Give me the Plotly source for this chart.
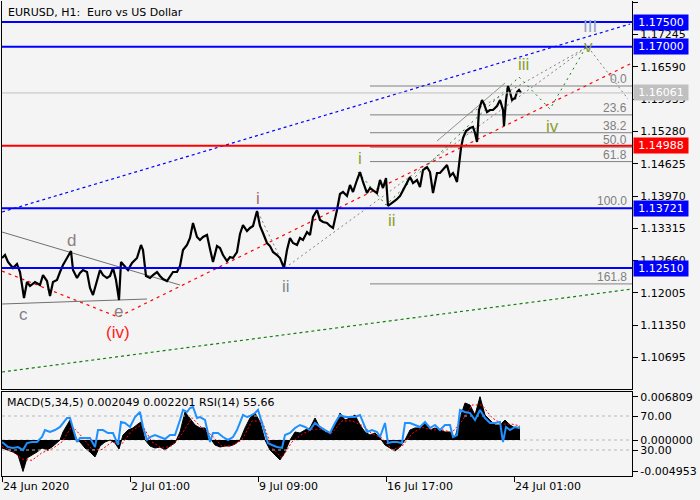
import plotly.graph_objects as go

# ---------------- data ----------------
# price path: hourly bar index (0 = 24 Jun 17:00) and price
bar_idx = [0, 3, 6, 11, 15, 18, 22, 25, 28, 33, 38, 41, 45, 48, 51, 55, 58, 61, 65, 69,
           71, 75, 78, 81, 85, 88, 91, 95, 98, 101, 105, 108, 111, 114, 117, 119, 123, 126, 130, 135,
           139, 141, 144, 148, 151, 155, 158, 161, 165, 168, 171, 175, 178, 181, 185, 188, 191, 195, 198, 201,
           205, 208, 211, 215, 218, 221, 225, 228, 231, 235, 238, 241, 245, 248, 251, 255, 258, 261, 265, 268,
           271, 275, 278, 282, 285, 288, 291, 295, 298, 301, 305, 308, 311, 315, 318, 321, 325, 328, 331, 335,
           338, 341, 345, 348, 351, 355, 358, 361, 365, 368, 371, 375, 378, 381, 384, 386, 390, 394, 398, 401,
           405, 408, 411, 415, 418, 421, 425, 428, 431, 435, 438, 441, 445, 448, 451, 453, 455, 457, 459, 461,
           464, 468, 471, 473, 475, 477, 480, 482, 485, 488, 491, 495, 498, 501, 502, 504, 506, 508, 510, 513,
           515, 517, 519]
price = [1.12713, 1.12774, 1.12632, 1.12510, 1.12591, 1.12429, 1.11902, 1.12226, 1.12145, 1.12226,
         1.12165, 1.12368, 1.12246, 1.11942, 1.12226, 1.12267, 1.12429, 1.12571, 1.12713, 1.12855,
         1.12470, 1.12307, 1.12409, 1.12470, 1.12429, 1.12104, 1.11962, 1.12267, 1.12470, 1.12368,
         1.12307, 1.12348, 1.12510, 1.12267, 1.11861, 1.12632, 1.12551, 1.12470, 1.12612, 1.12713,
         1.12977, 1.12875, 1.12348, 1.12307, 1.12368, 1.12429, 1.12348, 1.12287, 1.12246, 1.12348,
         1.12429, 1.12429, 1.12551, 1.12875, 1.12977, 1.13119, 1.13423, 1.13139, 1.13078, 1.13139,
         1.13180, 1.12896, 1.12632, 1.12956, 1.12916, 1.12774, 1.12652, 1.12733, 1.12713, 1.12835,
         1.13200, 1.13382, 1.13261, 1.13322, 1.13362, 1.13666, 1.13362, 1.13220, 1.13017, 1.12956,
         1.12835, 1.12774, 1.12713, 1.12510, 1.12875, 1.13119, 1.13017, 1.12977, 1.13119, 1.13078,
         1.13240, 1.13180, 1.13545, 1.13687, 1.13484, 1.13443, 1.13423, 1.13362, 1.13322, 1.13687,
         1.14011, 1.14052, 1.13971, 1.14194, 1.14052, 1.14295, 1.14457, 1.14255, 1.14031, 1.14133,
         1.14092, 1.14031, 1.14295, 1.14133, 1.14336, 1.13768, 1.13829, 1.13890, 1.13971, 1.14092,
         1.14234, 1.14356, 1.14234, 1.14295, 1.14153, 1.14498, 1.14559, 1.14457, 1.14031, 1.14437,
         1.14437, 1.14498, 1.14599, 1.14376, 1.14437, 1.14356, 1.14255, 1.14599, 1.14944, 1.15147,
         1.15289, 1.15350, 1.15370, 1.15249, 1.15066, 1.15715, 1.15918, 1.15837, 1.15674, 1.15715,
         1.15715, 1.15796, 1.15918, 1.15715, 1.15390, 1.15918, 1.16202, 1.16080, 1.15918, 1.15958,
         1.16080, 1.16121, 1.16061]

price_ticks = [1.17900, 1.17245, 1.16590, 1.15935, 1.15280, 1.14625, 1.13970,
               1.13315, 1.12660, 1.12005, 1.11350, 1.10695]
time_tick_bars = [0, 128, 256, 384, 512]
time_tick_labels = ["24 Jun 2020", "2 Jul 01:00", "9 Jul 09:00", "16 Jul 17:00", "24 Jul 01:00"]

blue_levels = [1.17500, 1.17000, 1.13721, 1.12510]
red_level = 1.14988
bid_price = 1.16061

fib_high = 1.16202
fib_low = 1.13721
fib_start_bar = 368
fib_ratios = [0.0, 23.6, 38.2, 50.0, 61.8, 100.0, 161.8]

# trend / channel lines: (bar, price) vertices
blue_channel = ([0, 628], [1.13646, 1.17459])
green_channel = ([0, 630], [1.10401, 1.12084])
red_channel = ([0, 116, 628], [1.12449, 1.11516, 1.16648])
tri_upper = ([0, 178], [1.13240, 1.12165])
tri_lower = ([0, 145], [1.11780, 1.11881])
gray_dashed = [
    ([256, 283], [1.13646, 1.12510]),
    ([283, 585], [1.12510, 1.16993]),
    ([465, 585], [1.15613, 1.16993]),
    ([586, 626], [1.16993, 1.15938]),
]
gray_thin = [([435, 503], [1.15086, 1.16262])]
green_waves = ([356, 384, 517, 548, 584], [1.14457, 1.13788, 1.16384, 1.15735, 1.16993])

wave_labels = [
    ("c", 21, 1.11577, "#80808f"), ("d", 69, 1.13078, "#8f8080"), ("e", 116, 1.11638, "#8f8080"),
    ("(iv)", 116, 1.11212, "#ff2020"), ("i", 256, 1.13930, "#9a7070"), ("ii", 284, 1.12145, "#7f8a8a"),
    ("i", 358, 1.14741, "#8aa030"), ("ii", 390, 1.13464, "#8aa030"), ("iii", 521, 1.16628, "#8aa030"),
    ("iv", 550, 1.15390, "#8aa030"), ("v", 586, 1.17013, "#8aa030"), ("III", 588, 1.17399, "#8fa3c7"),
]

# MACD histogram / signal and RSI
macd_bars = [0, 6, 11, 16, 21, 25, 30, 35, 40, 45, 50, 55, 58, 61, 65, 68, 71, 75, 78, 83,
             88, 93, 98, 103, 108, 113, 117, 121, 126, 131, 136, 139, 143, 148, 153, 158, 163, 168, 173, 178,
             183, 188, 193, 198, 203, 208, 213, 218, 223, 228, 233, 238, 243, 248, 253, 258, 263, 268, 273, 278,
             283, 288, 293, 298, 303, 308, 313, 318, 323, 328, 333, 338, 343, 348, 353, 358, 363, 368, 373, 378,
             383, 388, 393, 398, 403, 408, 413, 418, 423, 428, 433, 438, 443, 448, 453, 458, 463, 468, 473, 478,
             483, 488, 493, 498, 503, 508, 513, 518]
macd_main = [-0.00126, -0.00157, -0.00189, -0.00236, -0.00495, -0.00283, -0.00236, -0.00189, -0.00126, -0.00157,
             -0.00110, -0.00047, 0.0, 0.00126, 0.00236, 0.00314, 0.00157, 0.0, -0.00031, -0.00126,
             -0.00189, -0.00267, -0.00094, -0.00031, 0.0, -0.00047, -0.00142, 0.00079, 0.00157, 0.00189,
             0.00252, 0.00283, 0.0, -0.00094, -0.00126, -0.00110, -0.00157, -0.00094, -0.00047, 0.00126,
             0.00440, 0.00346, 0.00236, 0.00189, 0.00189, 0.00031, -0.00079, -0.00110, -0.00094, -0.00094,
             -0.00063, 0.0, 0.00189, 0.00346, 0.00425, 0.00283, 0.0, -0.00157, -0.00236, -0.00314,
             -0.00189, 0.0, 0.00126, 0.00110, 0.00157, 0.00189, 0.00346, 0.00189, 0.00126, 0.00110,
             0.00236, 0.00425, 0.00314, 0.00346, 0.00393, 0.00236, 0.00126, 0.00079, 0.00110, 0.00031,
             -0.00079, -0.00126, -0.00173, -0.00110, 0.0, 0.00157, 0.00189, 0.00189, 0.00283, 0.00157,
             0.00189, 0.00157, 0.00126, 0.00126, 0.00031, 0.00346, 0.00582, 0.00550, 0.00393, 0.00681,
             0.00393, 0.00314, 0.00236, 0.00236, 0.00314, 0.00236, 0.00189, 0.002049]
signal_bars = [0, 10, 20, 30, 40, 50, 60, 70, 80, 90, 100, 110, 120, 130, 140, 150, 160, 170, 180, 190,
               200, 210, 220, 230, 240, 250, 260, 270, 280, 290, 300, 310, 320, 330, 340, 350, 360, 370, 380, 390,
               400, 410, 420, 430, 440, 450, 460, 470, 480, 490, 500, 510, 518]
signal = [-0.0010, -0.0017, -0.0030, -0.0032, -0.0020, -0.0014, -0.0003, 0.0022, 0.0005, -0.0015,
          -0.0015, -0.0003, -0.0006, 0.0015, 0.0024, -0.0003, -0.0013, -0.0009, 0.0010, 0.0035,
          0.0019, 0.0007, -0.0010, -0.0009, 0.0000, 0.0030, 0.0030, -0.0012, -0.0028, -0.0003,
          0.0009, 0.0017, 0.0017, 0.0011, 0.0030, 0.0030, 0.0023, 0.0010, 0.0003, -0.0015,
          -0.0010, 0.0010, 0.0020, 0.0016, 0.0016, 0.0012, 0.0030, 0.0055, 0.0055, 0.0035,
          0.0025, 0.0025, 0.002201]
rsi_bars = [0, 6, 11, 16, 21, 25, 30, 35, 40, 43, 48, 53, 58, 61, 65, 68, 71, 75, 78, 83,
            88, 93, 96, 101, 106, 111, 116, 119, 123, 128, 133, 138, 141, 145, 148, 153, 158, 163, 168, 173,
            178, 181, 185, 188, 191, 195, 198, 203, 208, 211, 216, 221, 226, 231, 235, 238, 241, 245, 248, 253,
            256, 260, 263, 266, 270, 275, 280, 283, 288, 293, 298, 303, 308, 313, 318, 323, 328, 333, 338, 343,
            348, 353, 358, 361, 365, 370, 375, 378, 383, 386, 390, 395, 400, 403, 408, 413, 418, 423, 428, 433,
            438, 443, 448, 451, 455, 458, 463, 468, 473, 478, 483, 488, 493, 498, 501, 504, 508, 513, 518]
rsi = [39.4, 33.5, 32.4, 33.5, 30.0, 38.2, 39.4, 39.4, 45.3, 53.5, 51.2, 53.5, 57.1, 61.8, 67.6, 67.6,
       55.9, 39.4, 44.1, 44.1, 44.1, 33.5, 53.5, 53.5, 50.0, 50.0, 35.9, 62.9, 61.8, 57.1, 68.8, 74.7,
       57.1, 41.8, 45.3, 47.6, 45.3, 42.9, 47.6, 47.6, 65.3, 77.1, 74.7, 79.4, 80.6, 67.6, 68.8, 65.3,
       39.4, 50.0, 50.0, 45.3, 41.8, 45.3, 53.5, 62.9, 71.2, 68.8, 70.0, 73.5, 77.1, 61.8, 50.0, 38.2,
       35.9, 33.5, 32.4, 47.6, 50.0, 55.9, 59.4, 57.1, 53.5, 61.8, 57.1, 53.5, 50.0, 61.8, 71.2, 68.8,
       68.8, 68.8, 71.2, 61.8, 51.2, 53.5, 51.2, 45.3, 61.8, 38.2, 39.4, 39.4, 38.2, 61.8, 61.8, 59.4,
       57.1, 62.9, 55.9, 59.4, 53.5, 59.4, 59.4, 45.3, 47.6, 77.1, 74.7, 73.5, 65.3, 77.1, 67.6, 61.8,
       61.8, 62.9, 39.4, 57.1, 53.5, 57.1, 55.66]
rsi_levels = [70, 30]
macd_ticks = [0.006809, 0.0, -0.004953]

# ---------------- figure ----------------
FONT = "DejaVu Sans"
BG = "#f4f4f4"
fig = go.Figure()

def line(xs, ys, color, width=1, dash=None, yaxis="y", xaxis="x"):
    fig.add_trace(go.Scatter(x=xs, y=ys, mode="lines", xaxis=xaxis, yaxis=yaxis,
                             line=dict(color=color, width=width, dash=dash),
                             hoverinfo="skip", showlegend=False))

# horizontal levels
for lv in blue_levels:
    fig.add_shape(type="line", xref="paper", yref="y", x0=0, x1=1, y0=lv, y1=lv,
                  line=dict(color="#0000ff", width=2))
fig.add_shape(type="line", xref="paper", yref="y", x0=0, x1=1, y0=red_level, y1=red_level,
              line=dict(color="#ff0000", width=2))
fig.add_shape(type="line", xref="paper", yref="y", x0=0, x1=1, y0=bid_price, y1=bid_price,
              line=dict(color="#c0c0c0", width=1))

# fibonacci
for r in fib_ratios:
    lv = fib_high - r / 100.0 * (fib_high - fib_low)
    line([fib_start_bar, 630], [lv, lv], "#808080", 1)
    fig.add_annotation(x=1, xref="paper", y=lv, yref="y", text=f"{r:.1f}", showarrow=False,
                       xanchor="right", yanchor="bottom", xshift=-3, yshift=-2,
                       font=dict(family="Liberation Sans", size=12, color="#808080"))

# channels and trend lines
line(*blue_channel, "#0000ff", 1.2, "3px,3px")
line(*green_channel, "#108010", 1.2, "3px,3px")
line(*red_channel, "#ff0000", 1.2, "3px,4px")
line(*tri_upper, "#707070", 1)
line(*tri_lower, "#707070", 1)
for seg in gray_dashed:
    line(*seg, "#808080", 1, "2px,3px")
for seg in gray_thin:
    line(*seg, "#909090", 1)
line(*green_waves, "#108010", 1, "2px,4px")

# price
line(bar_idx, price, "#000000", 2.2)

# wave labels
for txt, bx, py, col in wave_labels:
    fig.add_annotation(x=bx, y=py, xref="x", yref="y", text=txt, showarrow=False,
                       font=dict(family="Liberation Sans", size=17, color=col))

# right price boxes
def price_box(v, bg):
    fig.add_annotation(x=1, xref="paper", y=v, yref="y", text=f"{v:.5f}", showarrow=False,
                       xanchor="left", xshift=1, bgcolor=bg, borderpad=1, width=52,
                       font=dict(family=FONT, size=11, color="#ffffff"))
for lv in blue_levels:
    price_box(lv, "#0000ff")
price_box(red_level, "#ff0000")
price_box(bid_price, "#c0c0c0")

# MACD panel
for lv in rsi_levels:
    line([0, 630], [lv, lv], "#b8b8b8", 1, "3px,3px", yaxis="y3", xaxis="x2")
line([0, 630], [0, 0], "#b8b8b8", 1, "3px,3px", yaxis="y2", xaxis="x2")
fig.add_trace(go.Scatter(x=macd_bars, y=macd_main, mode="lines", xaxis="x2", yaxis="y2",
                         fill="tozeroy", fillcolor="#000000", line=dict(color="#000000", width=1),
                         hoverinfo="skip", showlegend=False))
line(signal_bars, signal, "#ff0000", 1, "2px,2px", yaxis="y2", xaxis="x2")
line(rsi_bars, rsi, "#1e90ff", 2, yaxis="y3", xaxis="x2")

fig.add_annotation(x=0, xref="paper", y=1, yref="paper", text="EURUSD, H1: \u00a0Euro vs US Dollar",
                   showarrow=False, xanchor="left", yanchor="top", xshift=4, yshift=-3,
                   font=dict(family=FONT, size=11, color="#000000"))
fig.add_annotation(x=0, xref="paper", y=0.17684, yref="paper",
                   text="MACD(5,34,5) 0.002049 0.002201 RSI(14) 55.66",
                   showarrow=False, xanchor="left", yanchor="top", xshift=3, yshift=-2,
                   font=dict(family=FONT, size=11, color="#000000"))

axis_common = dict(showgrid=False, zeroline=False, linecolor="#000000", linewidth=1, automargin=False,
                   tickfont=dict(family=FONT, size=11, color="#000000"))
fig.update_layout(
    width=700, height=500, margin=dict(l=2, r=68, t=1, b=24, autoexpand=False),
    paper_bgcolor=BG, plot_bgcolor=BG, showlegend=False,
    xaxis=dict(domain=[0, 1], anchor="y", range=[0, 630], showticklabels=False, ticks="",
               showline=True, mirror=False, **{k: v for k, v in axis_common.items() if k != "tickfont"}),
    xaxis2=dict(domain=[0, 1], anchor="y2", range=[0, 630], matches="x", showline=True, mirror=True,
                tickmode="array", tickvals=time_tick_bars, ticktext=time_tick_labels,
                ticks="outside", ticklen=5, tickcolor="#000000", ticklabelposition="outside right",
                **axis_common),
    yaxis=dict(domain=[0.18316, 1], anchor="x", side="right", range=[1.10056, 1.17926],
               showline=True, mirror=True, tickmode="array", tickvals=price_ticks,
               ticktext=[f"{t:.5f}" for t in price_ticks], ticks="outside", ticklen=5,
               tickcolor="#000000", **axis_common),
    yaxis2=dict(domain=[0, 0.17684], anchor="x2", side="right", range=[-0.00566, 0.007547],
                showline=True, mirror=True, tickmode="array", tickvals=macd_ticks,
                ticktext=["0.006809", "0.000000", "-0.004953"], ticks="outside", ticklen=5,
                tickcolor="#000000", **axis_common),
    yaxis3=dict(overlaying="y2", anchor="x2", side="right", range=[-0.59, 98.24],
                tickmode="array", tickvals=rsi_levels, ticktext=["70.00", "30.00"],
                ticks="outside", ticklen=5, tickcolor="#000000", showline=False, **axis_common),
)

fig.write_html("out.html", config={"displayModeBar": False},
               post_script="document.body.style.margin='0px';document.body.style.background='#f4f4f4';")
